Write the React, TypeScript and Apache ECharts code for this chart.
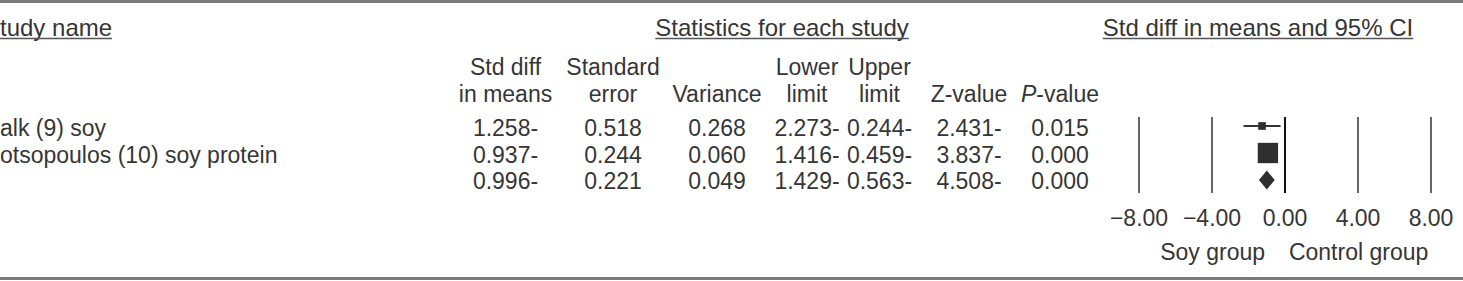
import React, { useEffect, useRef } from "react";
import * as echarts from "echarts";

// ---------- data ----------
const sectionHeaders = ["tudy name", "Statistics for each study", "Std diff in means and 95% CI"];
const columnHeaders: string[][] = [
  ["Std diff", "in means"],
  ["Standard", "error"],
  ["", "Variance"],
  ["Lower", "limit"],
  ["Upper", "limit"],
  ["", "Z-value"],
  ["", "{i|P}-value"],
];
const studyNames = ["alk (9) soy", "otsopoulos (10) soy protein", ""];
const stdDiff = [-1.258, -0.937, -0.996];
const stdError = [0.518, 0.244, 0.221];
const varianceVals = [0.268, 0.06, 0.049];
const lowerLimit = [-2.273, -1.416, -1.429];
const upperLimit = [-0.244, -0.459, -0.563];
const zValues = [-2.431, -3.837, -4.508];
const pValues = [0.015, 0.0, 0.0];
const relWeight = [18.3, 81.7]; // relative weight (%) of the two studies
const xTicks = [-8, -4, 0, 4, 8];
const favoursLabels = ["Soy group", "Control group"];

// ---------- layout ----------
const W = 1463;
const H = 281;
const FONT = '"Liberation Sans", Arial, Helvetica, sans-serif';
const FS = 23;
const HFS = 24;
const TXT = "#363636";
const colCenters = [505.5, 613, 717, 807, 879.5, 969, 1060];
const headerRowsY = [67, 94];
const dataRowsY = [128, 154.5, 181];
const sectionX = [0, 782, 1258];
const sectionY = 27;

const fmtNeg = (v: number) => Math.abs(v).toFixed(3) + (v < 0 ? "-" : "");
const fmtTick = (v: number) => (v < 0 ? "\u2212" + Math.abs(v).toFixed(2) : v.toFixed(2));

function measure(text: string, size: number): number {
  const c = document.createElement("canvas").getContext("2d");
  if (!c) return text.length * size * 0.5;
  c.font = `${size}px ${FONT}`;
  return c.measureText(text).width;
}

export default function App() {
  const ref = useRef<HTMLDivElement>(null);

  useEffect(() => {
    if (!ref.current) return;
    const chart = echarts.init(ref.current, undefined, { renderer: "svg" });

    const graphics: any[] = [];
    // top & bottom rules
    graphics.push({ type: "line", shape: { x1: 0, y1: 1.5, x2: W, y2: 1.5 }, style: { stroke: "#7a7a7a", lineWidth: 3 } });
    graphics.push({ type: "line", shape: { x1: 0, y1: 278.5, x2: W, y2: 278.5 }, style: { stroke: "#7a7a7a", lineWidth: 3 } });

    // section headers with underline
    sectionHeaders.forEach((t, i) => {
      const w = measure(t, HFS);
      const align = i === 0 ? "left" : "center";
      const x0 = i === 0 ? sectionX[i] : sectionX[i] - w / 2;
      graphics.push({
        type: "text",
        x: sectionX[i],
        y: sectionY,
        style: { text: t, font: `${HFS}px ${FONT}`, fill: TXT, align, verticalAlign: "middle" },
      });
      graphics.push({
        type: "line",
        shape: { x1: x0, y1: sectionY + 11.5, x2: x0 + w, y2: sectionY + 11.5 },
        style: { stroke: "#555", lineWidth: 1.5 },
      });
    });

    // column headers
    columnHeaders.forEach((lines, ci) => {
      lines.forEach((t, li) => {
        if (!t) return;
        graphics.push({
          type: "text",
          x: colCenters[ci],
          y: headerRowsY[li],
          style: {
            text: t,
            font: `${FS}px ${FONT}`,
            fill: TXT,
            align: "center",
            verticalAlign: "middle",
            rich: { i: { fontStyle: "italic", fontSize: FS, fontFamily: FONT, fill: TXT } },
          },
        });
      });
    });

    // data rows
    studyNames.forEach((name, r) => {
      const cells = [
        fmtNeg(stdDiff[r]),
        stdError[r].toFixed(3),
        varianceVals[r].toFixed(3),
        fmtNeg(lowerLimit[r]),
        fmtNeg(upperLimit[r]),
        fmtNeg(zValues[r]),
        pValues[r].toFixed(3),
      ];
      if (name) {
        graphics.push({
          type: "text",
          x: 0,
          y: dataRowsY[r],
          style: { text: name, font: `${FS}px ${FONT}`, fill: TXT, align: "left", verticalAlign: "middle" },
        });
      }
      cells.forEach((c, ci) => {
        graphics.push({
          type: "text",
          x: colCenters[ci],
          y: dataRowsY[r],
          style: { text: c, font: `${FS}px ${FONT}`, fill: TXT, align: "center", verticalAlign: "middle" },
        });
      });
    });

    // favours labels (centred under -4 and +4)
    const favX = [1212.6, 1358.6];
    favoursLabels.forEach((t, i) => {
      graphics.push({
        type: "text",
        x: favX[i],
        y: 252,
        style: { text: t, font: `${FS}px ${FONT}`, fill: TXT, align: "center", verticalAlign: "middle" },
      });
    });

    const studyData = relWeight.map((w, i) => [stdDiff[i], i, lowerLimit[i], upperLimit[i], w]);
    const summaryIdx = stdDiff.length - 1;
    const summaryData = [[stdDiff[summaryIdx], summaryIdx, lowerLimit[summaryIdx], upperLimit[summaryIdx]]];

    const option: any = {
      animation: false,
      backgroundColor: "#ffffff",
      grid: { left: 1139, right: W - 1431, top: 117, height: 76, containLabel: false },
      xAxis: {
        type: "value",
        min: xTicks[0],
        max: xTicks[xTicks.length - 1],
        interval: 4,
        axisLine: { show: false },
        axisTick: { show: false },
        splitLine: { show: true, lineStyle: { color: "#666666", width: 2 } },
        axisLabel: {
          color: TXT,
          fontSize: FS,
          fontFamily: FONT,
          margin: 13,
          formatter: (v: number) => fmtTick(v),
        },
      },
      yAxis: {
        type: "value",
        min: -0.333,
        max: 2.481,
        inverse: true,
        show: false,
        splitLine: { show: false },
      },
      series: [
        {
          type: "custom",
          data: studyData,
          renderItem: (params: any, api: any) => {
            const c = api.coord([api.value(0), api.value(1)]);
            const lo = api.coord([api.value(2), api.value(1)]);
            const hi = api.coord([api.value(3), api.value(1)]);
            const s = 4 + 0.2 * api.value(4);
            return {
              type: "group",
              children: [
                { type: "line", shape: { x1: lo[0], y1: c[1], x2: hi[0], y2: c[1] }, style: { stroke: "#333", lineWidth: 2 } },
                { type: "rect", shape: { x: c[0] - s / 2, y: c[1] - s / 2, width: s, height: s }, style: { fill: "#2f2f2f" } },
              ],
            };
          },
          markLine: {
            silent: true,
            symbol: "none",
            label: { show: false },
            lineStyle: { color: "#111111", width: 2, type: "solid" },
            data: [{ xAxis: 0 }],
          },
          z: 3,
        },
        {
          type: "custom",
          data: summaryData,
          renderItem: (params: any, api: any) => {
            const c = api.coord([api.value(0), api.value(1)]);
            const lo = api.coord([api.value(2), api.value(1)]);
            const hi = api.coord([api.value(3), api.value(1)]);
            const h = 9.5;
            return {
              type: "polygon",
              shape: { points: [[lo[0], c[1]], [c[0], c[1] - h], [hi[0], c[1]], [c[0], c[1] + h]] },
              style: { fill: "#2f2f2f" },
            };
          },
          z: 3,
        },
      ],
      graphic: graphics,
    };

    chart.setOption(option);
    return () => chart.dispose();
  }, []);

  return (
    <div
      ref={ref}
      style={{ position: "fixed", left: 0, top: 0, width: W, height: H, background: "#fff" }}
    />
  );
}
